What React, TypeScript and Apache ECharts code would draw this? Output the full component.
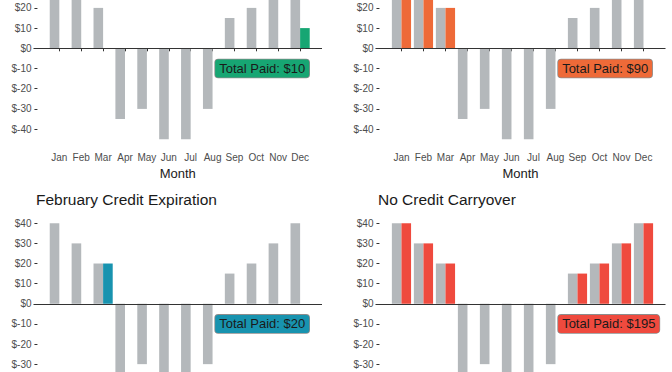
import React, { useEffect, useRef } from "react";
import * as echarts from "echarts";

// ---- data ----
const months = ["Jan", "Feb", "Mar", "Apr", "May", "Jun", "Jul", "Aug", "Sep", "Oct", "Nov", "Dec"];
const monthNumbers = [1, 2, 3, 4, 5, 6, 7, 8, 9, 10, 11, 12];
const bills = [40, 30, 20, -35, -30, -45, -45, -30, 15, 20, 30, 40];
const paidPanelA = [null, null, null, null, null, null, null, null, null, null, null, 10];
const paidPanelB = [40, 30, 20, null, null, null, null, null, null, null, null, null];
const paidFebExpiration = [null, null, 20, null, null, null, null, null, null, null, null, null];
const paidNoCarryover = [40, 30, 20, null, null, null, null, null, 15, 20, 30, 40];
const panelTitles = ["", "", "February Credit Expiration", "No Credit Carryover"];
// tick labels visible in each row of panels (the rest lies outside the picture)
const yTicksTopRow = [-40, -30, -20, -10, 0, 10, 20];
const yTicksBottomRow = [-30, -20, -10, 0, 10, 20, 30, 40];
const labelAnchor = { x: 8.12, y: -10 };

// ---- styles ----
const FONT = "'Liberation Sans', Arial, Helvetica, sans-serif";
const GREY = "#B4B8BB";
const panelColors = ["#17A673", "#EE6A38", "#1893AF", "#EF4A3E"];
const panelPaid = [paidPanelA, paidPanelB, paidFebExpiration, paidNoCarryover];
const panelBoxes = [
  { left: 33.5, width: 288.5, top: -41.1, height: 188.9, bottomRow: false },
  { left: 375.5, width: 290, top: -41.1, height: 188.9, bottomRow: false },
  { left: 33.5, width: 288.5, top: 214.7, height: 188.2, bottomRow: true },
  { left: 375.5, width: 290, top: 214.7, height: 188.2, bottomRow: true },
];

export default function App() {
  const ref = useRef<HTMLDivElement>(null);
  useEffect(() => {
    if (!ref.current) return;
    const chart = echarts.init(ref.current, undefined, { renderer: "svg" });
    const grid: any[] = [];
    const xAxis: any[] = [];
    const yAxis: any[] = [];
    const series: any[] = [];
    const title: any[] = [];

    panelBoxes.forEach((b, i) => {
      const yTicks = b.bottomRow ? yTicksBottomRow : yTicksTopRow;
      grid.push({ left: b.left, top: b.top, width: b.width, height: b.height, containLabel: false, outerBoundsMode: "none" });
      xAxis.push({
        type: "value",
        gridIndex: i,
        min: -0.18,
        max: 13,
        axisLine: { show: false },
        splitLine: { show: false },
        axisTick: { show: !b.bottomRow, customValues: monthNumbers, length: 3, lineStyle: { color: "#333", width: 1 } },
        axisLabel: {
          show: !b.bottomRow,
          customValues: monthNumbers,
          formatter: (v: number) => months[v - 1] ?? "",
          fontSize: 10,
          color: "#4d4d4d",
          margin: 4.5,
          fontFamily: FONT,
        },
        name: b.bottomRow ? "" : "Month",
        nameLocation: "middle",
        nameGap: 19,
        nameTextStyle: { fontSize: 13, color: "#1a1a1a", fontFamily: FONT },
      });
      yAxis.push({
        type: "value",
        gridIndex: i,
        min: -49.25,
        max: 44.25,
        axisLine: { show: false },
        splitLine: { show: false },
        axisTick: { show: true, customValues: yTicks, length: 3, lineStyle: { color: "#333", width: 1 } },
        axisLabel: {
          customValues: yTicks,
          formatter: (v: number) => "$" + v,
          fontSize: 10,
          color: "#4d4d4d",
          margin: 2,
          fontFamily: FONT,
        },
      });
      series.push({
        type: "bar",
        xAxisIndex: i,
        yAxisIndex: i,
        barWidth: 9.6,
        barGap: "0%",
        itemStyle: { color: GREY },
        data: bills.map((v, k) => [monthNumbers[k], v]),
        markLine: {
          silent: true,
          symbol: ["none", "none"],
          label: { show: false },
          lineStyle: { color: "#333", width: 1.2, type: "solid" },
          data: [{ yAxis: 0 }],
        },
      });
      const paid = panelPaid[i];
      series.push({
        type: "bar",
        xAxisIndex: i,
        yAxisIndex: i,
        barWidth: 9.6,
        barGap: "0%",
        itemStyle: { color: panelColors[i] },
        data: paid
          .map((v, k) => (v == null ? null : [monthNumbers[k], v]))
          .filter((d) => d !== null),
      });
      const total = paid.reduce((s: number, v) => s + (v ?? 0), 0);
      series.push({
        type: "scatter",
        xAxisIndex: i,
        yAxisIndex: i,
        symbolSize: 0,
        z: 10,
        itemStyle: { opacity: 1 },
        data: [[labelAnchor.x, labelAnchor.y]],
        label: {
          show: true,
          position: "right",
          distance: 0,
          opacity: 1,
          formatter: "Total Paid: $" + total,
          fontSize: 13,
          fontFamily: FONT,
          color: "#1a1a1a",
          backgroundColor: panelColors[i],
          borderColor: "rgba(0,0,0,0.45)",
          borderWidth: 0.8,
          borderRadius: 3,
          padding: [3, 4, 2, 4],
        },
      });
      if (panelTitles[i]) {
        title.push({
          text: panelTitles[i],
          left: b.left + 2.5,
          top: b.top - 23.5,
          padding: 0,
          textStyle: { fontSize: 15.5, fontWeight: "normal", color: "#1a1a1a", fontFamily: FONT },
        });
      }
    });

    chart.setOption({
      animation: false,
      backgroundColor: "#ffffff",
      textStyle: { fontFamily: FONT },
      title,
      grid,
      xAxis,
      yAxis,
      series,
    });
    return () => chart.dispose();
  }, []);
  return <div ref={ref} style={{ position: "fixed", left: 0, top: 0, width: 672, height: 372 }} />;
}
